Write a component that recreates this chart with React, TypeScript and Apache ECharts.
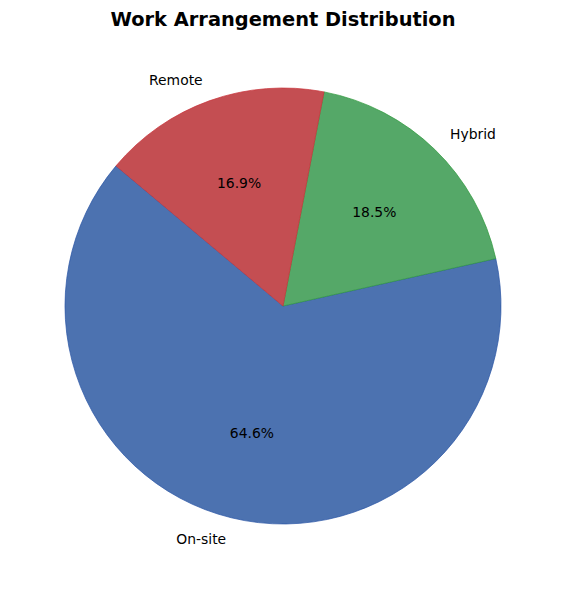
import React, { useEffect, useRef } from "react";
import * as echarts from "echarts";

const categories = ["On-site", "Hybrid", "Remote"];
const percentages = [64.6, 18.5, 16.9];
const faceColors = ["#4C72B0", "#55A868", "#C44E52"];
const edgeColors = ["#2a55a5", "#2f9a3c", "#c8323a"];

const titleText = "Work Arrangement Distribution";

export default function App() {
  const ref = useRef<HTMLDivElement>(null);
  useEffect(() => {
    if (!ref.current) return;
    const chart = echarts.init(ref.current, undefined, { renderer: "svg" });
    const R = 218;
    const center = [283, 306];
    const font = "DejaVu Sans";
    const data = categories.map((c, i) => ({
      name: c,
      value: percentages[i],
      itemStyle: { color: faceColors[i], borderColor: edgeColors[i], borderWidth: 0.7 },
    }));
    chart.setOption({
      animation: false,
      backgroundColor: "#ffffff",
      title: {
        text: titleText,
        left: "center",
        top: 5,
        textStyle: { fontFamily: font, fontWeight: "bold", fontSize: 19.4, color: "#000" },
      },
      series: [
        {
          type: "pie",
          center,
          radius: [0, R],
          startAngle: 140,
          clockwise: false,
          avoidLabelOverlap: false,
          silent: true,
          data,
          label: {
            show: true,
            position: "outside",
            formatter: "{b}",
            fontFamily: font,
            fontSize: 13.9,
            color: "#000",
            distanceToLabelLine: 0,
          },
          labelLine: { show: false, length: R * 0.1, length2: 0 },
        },
        {
          type: "pie",
          center,
          radius: [0, R * 1.175],
          startAngle: 140,
          clockwise: false,
          avoidLabelOverlap: false,
          silent: true,
          data: categories.map((c, i) => ({
            name: c,
            value: percentages[i],
            itemStyle: { color: "rgba(0,0,0,0)", borderWidth: 0 },
          })),
          label: {
            show: true,
            position: "inside",
            formatter: (p: any) => p.value.toFixed(1) + "%",
            fontFamily: font,
            fontSize: 13.9,
            color: "#000",
          },
          labelLine: { show: false },
        },
      ],
    });
    return () => chart.dispose();
  }, []);
  return (
    <div
      ref={ref}
      style={{ position: "fixed", left: 0, top: 0, width: 566, height: 590 }}
    />
  );
}
